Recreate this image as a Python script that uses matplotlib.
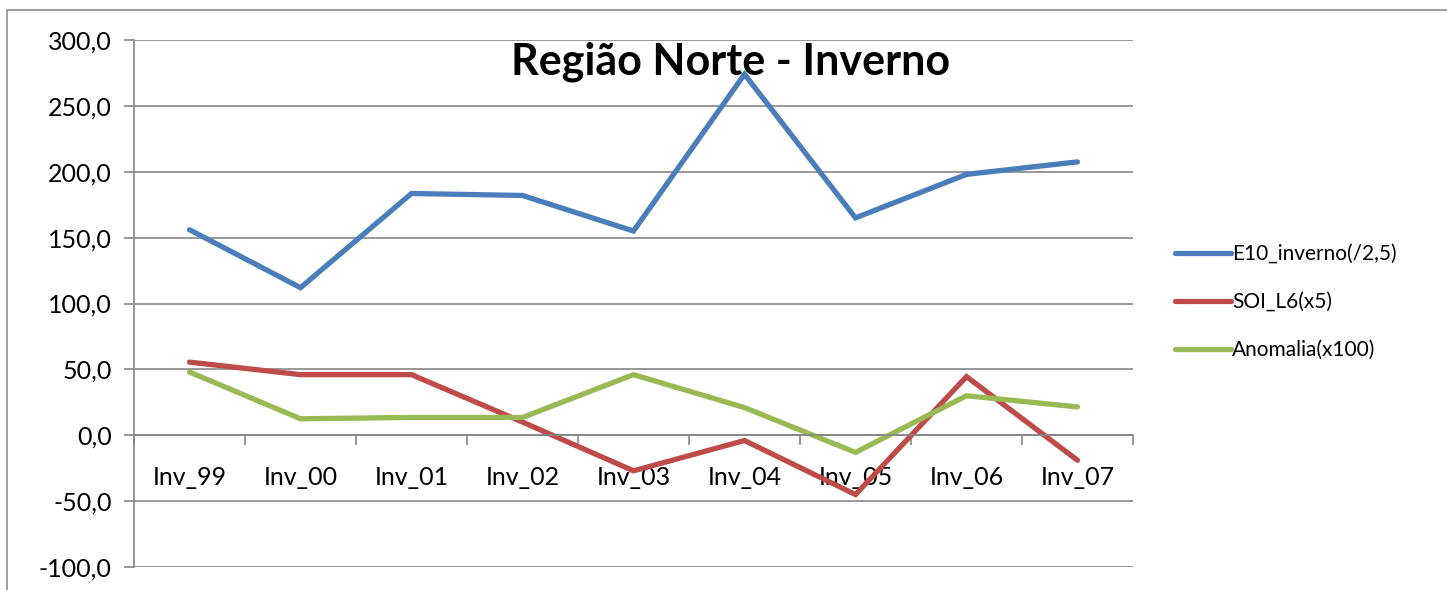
import matplotlib.pyplot as plt
import numpy as np
from matplotlib.patches import Rectangle

plt.rcParams['font.family'] = ['Lato', 'DejaVu Sans']

categorias = ["Inv_99", "Inv_00", "Inv_01", "Inv_02", "Inv_03", "Inv_04", "Inv_05", "Inv_06", "Inv_07"]
e10_inverno = [156.0, 112.0, 183.5, 182.0, 155.0, 274.0, 165.0, 198.0, 207.5]
soi_l6 = [55.5, 46.0, 46.0, 10.0, -27.0, -4.0, -45.0, 44.5, -19.0]
anomalia = [48.0, 12.5, 13.5, 13.5, 46.0, 21.0, -13.0, 30.0, 21.5]
nomes = ["E10_inverno(/2,5)", "SOI_L6(x5)", "Anomalia(x100)"]
cores = ["#4A7EBB", "#BE4B48", "#98B954"]

fig = plt.figure(figsize=(14.47, 5.9), dpi=100)
ax = fig.add_axes([134/1447, 1 - 567/590, (1133-134)/1447, (567-40)/590])

# moldura do gráfico (cortada pela imagem)
fig.patches.append(Rectangle((7/1447, -0.1), 1.2, 1 - 10/590 + 0.1, transform=fig.transFigure,
                             fill=False, edgecolor="#8c8c8c", linewidth=1.2))

x = np.arange(len(categorias))
linhas = []
for serie, nome, cor in zip([e10_inverno, soi_l6, anomalia], nomes, cores):
    l, = ax.plot(x, serie, color=cor, linewidth=3.8, label=nome, solid_capstyle='round',
                 solid_joinstyle='miter')
    linhas.append(l)

ax.set_xlim(-0.5, len(categorias) - 0.5)
ax.set_ylim(-100, 300)
yt = np.arange(-100, 301, 50)
ax.set_yticks(yt)
ax.set_yticklabels([f"{v:.1f}".replace(".", ",") for v in yt], fontsize=18)
ax.grid(axis='y', color="#868686", linewidth=1.2)
ax.set_axisbelow(True)

ax.spines['top'].set_visible(False)
ax.spines['right'].set_visible(False)
ax.spines['left'].set_color("#868686")
ax.spines['left'].set_linewidth(1.2)
ax.spines['bottom'].set_position(('data', 0))
ax.spines['bottom'].set_color("#868686")
ax.spines['bottom'].set_linewidth(1.2)

ax.set_xticks(x)
ax.set_xticklabels(categorias, fontsize=18)
ax.set_xticks(np.arange(-0.5, len(categorias), 1), minor=True)
ax.tick_params(axis='x', which='major', length=0, pad=22)
ax.tick_params(axis='x', which='minor', length=7, color="#868686", width=1.2)
ax.tick_params(axis='y', length=7, color="#868686", width=1.2, pad=9)

fig.text(731/1447, 1 - 62/590, "Região Norte - Inverno", fontsize=31, fontweight='bold',
         ha='center', va='center')

fig.legend(handles=linhas, loc='center left', bbox_to_anchor=(1156/1447, 1 - 302/590),
           frameon=False, fontsize=15, handlelength=2.7, handletextpad=0.05, labelspacing=1.35)

fig.savefig("out.png", dpi=100)
